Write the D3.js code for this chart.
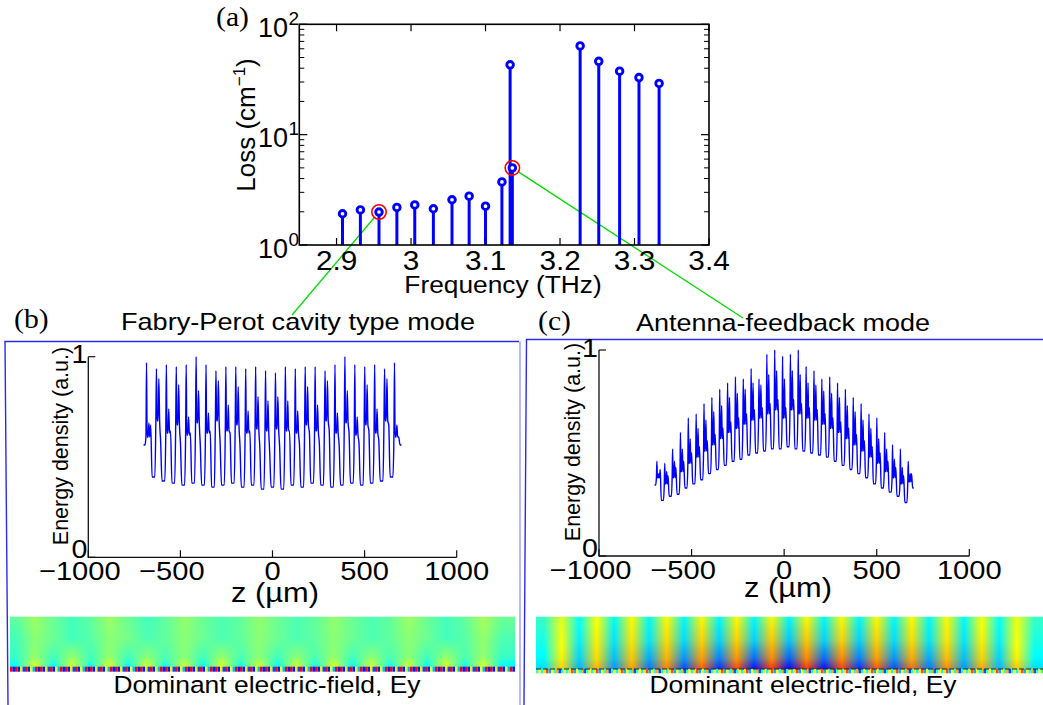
<!DOCTYPE html>
<html><head><meta charset="utf-8">
<script src="https://cdn.jsdelivr.net/npm/d3@7"></script>
<style>body{margin:0;background:#fff} svg{display:block}</style>
</head><body>
<svg id="fig" width="1043" height="705"></svg>
<script>
// ================= DATA =================
// (a) modal loss spectrum
const freqTHz = [2.908, 2.932, 2.957, 2.981, 3.005, 3.030, 3.055, 3.078, 3.100, 3.122, 3.133, 3.136, 3.227, 3.252, 3.280, 3.306, 3.333];
const lossCm  = [1.92, 2.08, 1.99, 2.19, 2.31, 2.13, 2.57, 2.77, 2.25, 3.73, 42.9, 4.99, 63.7, 46.2, 37.6, 32.9, 29.1];
const highlighted = [2, 11];
const freqTicks = [2.9, 3, 3.1, 3.2, 3.3, 3.4];
const freqTickLabels = ["2.9", "3", "3.1", "3.2", "3.3", "3.4"];
const lossDecades = [0, 1, 2];

// (b),(c) energy density axes
const zTicks = [-1000, -500, 0, 500, 1000];
const zTickLabels = ["\u22121000", "\u2212500", "0", "500", "1000"];
const energyTicks = [0, 1];

// (b) Fabry-Perot mode: per grating period values
const fpTrough   = [0.56,0.40,0.38,0.37,0.36,0.37,0.36,0.35,0.36,0.37,0.35,0.36,0.34,0.35,0.34,0.36,0.35,0.37,0.36,0.35,0.36,0.37,0.36,0.37,0.38,0.40,0.56];
const fpPeakA    = [0.97,0.94,0.96,0.95,0.96,1.00,0.96,0.93,0.95,0.95,0.94,0.95,0.93,0.92,0.95,0.94,0.95,0.95,0.93,0.96,1.00,0.96,0.95,0.96,0.94,0.97];
const fpPeakB    = [0.67,0.89,0.74,0.86,0.70,0.83,0.72,0.88,0.76,0.85,0.73,0.80,0.78,0.80,0.78,0.73,0.85,0.76,0.88,0.72,0.83,0.70,0.86,0.74,0.89,0.66];
const fpShoulder = [0.60,0.68,0.62,0.66,0.61,0.67,0.62,0.68,0.63,0.66,0.62,0.64,0.63,0.64,0.63,0.62,0.66,0.63,0.68,0.62,0.67,0.61,0.66,0.62,0.68,0.60];
const fpSmall    = [0.66,0.58,0.63,0.57,0.62,0.56,0.63,0.57,0.62,0.56,0.63,0.55,0.52,0.55,0.63,0.56,0.62,0.57,0.63,0.56,0.62,0.57,0.63,0.58,0.66,0.60];

// (c) Antenna-feedback mode: per grating period values
const afTrough   = [0.345,0.27,0.29,0.30,0.33,0.35,0.37,0.40,0.42,0.44,0.46,0.47,0.49,0.50,0.51,0.52,0.52,0.53,0.52,0.51,0.50,0.49,0.48,0.46,0.44,0.42,0.40,0.38,0.35,0.33,0.31,0.29,0.26,0.33];
const afPeakA    = [0.46,0.45,0.52,0.60,0.67,0.69,0.74,0.77,0.81,0.84,0.87,0.86,0.91,0.86,0.98,1.00,0.97,0.98,1.00,0.92,0.90,0.86,0.87,0.84,0.81,0.77,0.74,0.69,0.67,0.60,0.54,0.52,0.46];
const afPeakB    = [0.40,0.41,0.46,0.52,0.57,0.62,0.66,0.70,0.73,0.77,0.79,0.81,0.84,0.83,0.88,0.90,0.86,0.90,0.88,0.84,0.83,0.80,0.79,0.77,0.73,0.70,0.66,0.62,0.57,0.52,0.47,0.43,0.40];
const afShoulder = [0.38,0.35,0.38,0.41,0.45,0.48,0.51,0.54,0.57,0.60,0.62,0.64,0.66,0.67,0.69,0.71,0.67,0.71,0.69,0.67,0.66,0.64,0.62,0.60,0.57,0.54,0.51,0.48,0.45,0.41,0.38,0.35,0.36];
const afSmall    = [0.42,0.39,0.43,0.46,0.50,0.53,0.56,0.59,0.62,0.65,0.67,0.69,0.71,0.72,0.74,0.76,0.72,0.76,0.74,0.72,0.71,0.69,0.67,0.65,0.62,0.59,0.56,0.53,0.50,0.46,0.43,0.39,0.40];

// Field maps (jet-normalised Ey), rows from top to the grating surface
const fieldRowFrac = [0, 0.45, 0.8, 1];
const fpFieldRow0 = [0.47,0.53,0.48,0.44,0.47,0.53,0.48,0.44,0.47,0.52,0.48,0.45,0.47,0.52,0.48,0.45,0.47,0.52,0.48,0.45,0.47,0.53,0.48,0.44,0.47,0.54,0.48];
const fpFieldRow1 = [0.44,0.51,0.48,0.44,0.46,0.51,0.49,0.45,0.47,0.51,0.48,0.45,0.47,0.51,0.48,0.45,0.47,0.51,0.48,0.45,0.47,0.51,0.48,0.44,0.46,0.52,0.45];
const fpFieldRow2 = [0.43,0.52,0.44,0.52,0.44,0.52,0.44,0.51,0.45,0.51,0.44,0.52,0.45,0.51,0.44,0.51,0.45,0.52,0.44,0.51,0.45,0.51,0.44,0.52,0.45,0.52,0.43];
const fpFieldRow3 = [0.38,0.60,0.38,0.59,0.39,0.60,0.38,0.59,0.39,0.59,0.38,0.60,0.39,0.59,0.38,0.59,0.39,0.60,0.38,0.59,0.39,0.59,0.38,0.60,0.39,0.60,0.37];
const afFieldRowFrac = [0, 0.45, 0.8, 1];
const afFieldRow0 = [0.43,0.60,0.38,0.62,0.37,0.63,0.37,0.63,0.37,0.63,0.37,0.63,0.37,0.63,0.37,0.63,0.37,0.63,0.37,0.63,0.37,0.63,0.37,0.63,0.37,0.62,0.38,0.61,0.43];
const afFieldRow1 = [0.40,0.62,0.36,0.64,0.35,0.65,0.35,0.66,0.34,0.67,0.33,0.67,0.33,0.68,0.32,0.68,0.33,0.67,0.33,0.67,0.34,0.66,0.35,0.65,0.35,0.64,0.36,0.62,0.40];
const afFieldRow2 = [0.37,0.64,0.33,0.66,0.31,0.68,0.29,0.70,0.27,0.72,0.25,0.73,0.23,0.74,0.22,0.74,0.23,0.74,0.25,0.72,0.27,0.71,0.29,0.69,0.31,0.67,0.33,0.64,0.37];
const afFieldRow3 = [0.34,0.67,0.30,0.70,0.27,0.72,0.24,0.75,0.20,0.78,0.17,0.80,0.14,0.82,0.13,0.82,0.14,0.81,0.17,0.79,0.20,0.77,0.24,0.74,0.27,0.71,0.30,0.68,0.34];
const fpGrating = [0.88,0.15,0.88,0.15,0.65,0.20,0.88,0.15,0.60,0.30];
const afGrating = [0.40,0.62,0.38,0.65,0.80,0.30,0.62,0.40,0.70,0.20];

// ================= DRAWING =================
const svg = d3.select("#fig");
const defs = svg.append("defs");
const SANS = "'Liberation Sans', Arial, Helvetica, sans-serif";
const SERIF = "'Liberation Serif', 'Times New Roman', serif";

function label(parent, x, y, str, o = {}) {
  const g = parent.append("g")
    .attr("transform", `translate(${x},${y})` + (o.rot ? ` rotate(${o.rot})` : "") + ` scale(${o.sx || 1},1)`);
  return g.append("text")
    .attr("text-anchor", o.anchor || "middle")
    .attr("font-family", o.family || SANS)
    .attr("font-size", o.size || 24)
    .attr("fill", "#000")
    .text(str);
}

const jet = d3.scaleLinear()
  .domain([0, 0.125, 0.375, 0.625, 0.875, 1])
  .range(["#000090", "#0000ff", "#00ffff", "#ffff00", "#ff0000", "#800000"])
  .clamp(true);

// ---------- panel (a) ----------
const A = svg.append("g");
const ax = d3.scaleLinear().domain([2.85, 3.4]).range([299.3, 709]);
const ay = d3.scaleLog().domain([1, 100]).range([245, 24.3]);

// green annotation leaders (from highlighted points to panel titles)
const leaderEnds = [[292, 315], [743, 318]];
const redR = 7.2;
highlighted.forEach((idx, i) => {
  const cx = ax(freqTHz[idx]), cy = ay(lossCm[idx]);
  const [ex, ey] = leaderEnds[i];
  const d = Math.hypot(ex - cx, ey - cy);
  A.append("line")
    .attr("x1", cx + (ex - cx) / d * redR).attr("y1", cy + (ey - cy) / d * redR)
    .attr("x2", ex).attr("y2", ey)
    .attr("stroke", "#00dd00").attr("stroke-width", 1.3);
});

// stems
A.selectAll("line.stem").data(freqTHz).join("line").attr("class", "stem")
  .attr("x1", d => ax(d)).attr("x2", d => ax(d))
  .attr("y1", ay(1)).attr("y2", (d, i) => ay(lossCm[i]))
  .attr("stroke", "#0000ff").attr("stroke-width", 3);

// frame
A.append("rect").attr("x", ax(2.85)).attr("y", ay(100))
  .attr("width", ax(3.4) - ax(2.85)).attr("height", ay(1) - ay(100))
  .attr("fill", "none").attr("stroke", "#000").attr("stroke-width", 1.6);

// x ticks (bottom + top)
freqTicks.forEach(t => {
  A.append("line").attr("x1", ax(t)).attr("x2", ax(t)).attr("y1", ay(1)).attr("y2", ay(1) - 7).attr("stroke", "#000").attr("stroke-width", 1.2);
  A.append("line").attr("x1", ax(t)).attr("x2", ax(t)).attr("y1", ay(100)).attr("y2", ay(100) + 7).attr("stroke", "#000").attr("stroke-width", 1.2);
});
// y ticks (major + minor) left and right
lossDecades.forEach(e => {
  const v = Math.pow(10, e);
  [[ax(2.85), 1], [ax(3.4), -1]].forEach(([x, s]) => {
    A.append("line").attr("x1", x).attr("x2", x + s * 8).attr("y1", ay(v)).attr("y2", ay(v)).attr("stroke", "#000").attr("stroke-width", 1.2);
    if (e < 2) for (let k = 2; k <= 9; k++) {
      A.append("line").attr("x1", x).attr("x2", x + s * 5).attr("y1", ay(v * k)).attr("y2", ay(v * k)).attr("stroke", "#000").attr("stroke-width", 1);
    }
  });
});

// markers
A.selectAll("circle.mk").data(freqTHz).join("circle").attr("class", "mk")
  .attr("cx", d => ax(d)).attr("cy", (d, i) => ay(lossCm[i]))
  .attr("r", 3.3).attr("fill", "#fff").attr("stroke", "#0000ff").attr("stroke-width", 2.9);
// red highlight circles
highlighted.forEach(idx => {
  A.append("circle").attr("cx", ax(freqTHz[idx])).attr("cy", ay(lossCm[idx]))
    .attr("r", redR).attr("fill", "none").attr("stroke", "#ff0000").attr("stroke-width", 1.6);
});

// tick labels
freqTicks.forEach((t, i) => label(A, ax(t), 270, freqTickLabels[i], { size: 27, sx: 1.1 }));
lossDecades.forEach(e => {
  const v = Math.pow(10, e);
  label(A, 288, ay(v) + 12.5, "10", { size: 27, anchor: "end" });
  label(A, 288.5, ay(v) + 0.5, String(e), { size: 19, anchor: "start" });
});
label(A, 503, 293, "Frequency (THz)", { size: 23.5, sx: 1.12 });
{
  const t = label(A, 255, 125, "", { size: 26, rot: -90 });
  t.append("tspan").text("Loss (cm");
  t.append("tspan").attr("font-size", 17).attr("dy", -10).text("\u22121");
  t.append("tspan").attr("dy", 10).text(")");
}
label(A, 216, 26, "(a)", { size: 27, sx: 1.1, anchor: "start", family: SERIF });

// ---------- panel frames & titles ----------
const F = svg.append("g");
F.append("path").attr("d", "M8,705 L5,341.5 L519,341.5").attr("fill", "none").attr("stroke", "#2a2aee").attr("stroke-width", 1.4);
F.append("line").attr("x1", 520).attr("x2", 520).attr("y1", 341.5).attr("y2", 705).attr("stroke", "#8a8af2").attr("stroke-width", 1.2);
F.append("path").attr("d", "M524,705 L526.5,339.5 L1043,339.5").attr("fill", "none").attr("stroke", "#2a2aee").attr("stroke-width", 1.4);
label(F, 14, 328, "(b)", { size: 27, sx: 1.1, anchor: "start", family: SERIF });
label(F, 298, 330, "Fabry-Perot cavity type mode", { size: 24, sx: 1.13 });
label(F, 538, 330, "(c)", { size: 27, sx: 1.1, anchor: "start", family: SERIF });
label(F, 783, 331, "Antenna-feedback mode", { size: 24, sx: 1.125 });

// ---------- energy density panels ----------
const shape = [[0, "T"], [0.14, "T"], [0.24, "S"], [0.30, "A"], [0.36, "S"], [0.46, "S"], [0.54, "B"], [0.62, "S"], [0.72, "C"], [0.86, "Tn"]];
function buildTrace(z0, z1, rec) {
  const n = rec.A.length, P = (z1 - z0) / n;
  const pts = [];
  for (let i = 0; i < n; i++) {
    for (const [f, key] of shape) {
      const v = key === "T" ? rec.T[i] : key === "Tn" ? rec.T[i + 1] : rec[key][i];
      pts.push([z0 + (i + f) * P, v]);
    }
  }
  pts.push([z1, rec.T[n]]);
  return pts;
}

function energyPanel(o) {
  const g = svg.append("g");
  const x = d3.scaleLinear().domain([-1000, 1000]).range(o.xr);
  const y = d3.scaleLinear().domain([0, 1]).range(o.yr);
  const pts = buildTrace(-700, 700, o.rec);
  g.append("path").datum(pts)
    .attr("d", d3.line().x(d => x(d[0])).y(d => y(d[1])).curve(d3.curveMonotoneX))
    .attr("fill", "none").attr("stroke", "#0000ff").attr("stroke-width", 1.4).attr("stroke-linejoin", "round");
  // axes
  g.append("path").attr("d", `M${x(-1000)},${y(1)} V${y(0)} H${x(1000)}`)
    .attr("fill", "none").attr("stroke", "#111").attr("stroke-width", 1.3);
  zTicks.forEach(t => g.append("line").attr("x1", x(t)).attr("x2", x(t)).attr("y1", y(0)).attr("y2", y(0) - 7).attr("stroke", "#111").attr("stroke-width", 1.2));
  energyTicks.forEach(t => g.append("line").attr("x1", x(-1000)).attr("x2", x(-1000) + 7).attr("y1", y(t)).attr("y2", y(t)).attr("stroke", "#111").attr("stroke-width", 1.2));
  // x tick labels: digits centred on tick, minus hanging left
  zTicks.forEach((t, i) => {
    const s = zTickLabels[i];
    const neg = s.startsWith("\u2212");
    const digits = neg ? s.slice(1) : s;
    const tx = label(g, x(t), y(0) + 22.5, digits, { size: 26, sx: 1.12 });
    if (neg) {
      const w = tx.node().getComputedTextLength();
      d3.select(tx.node().parentNode).append("text")
        .attr("x", -w / 2).attr("text-anchor", "end").attr("font-family", SANS).attr("font-size", 26).text("\u2212");
    }
  });
  energyTicks.forEach(t => label(g, x(-1000) - 1, y(t) + (t === 0 ? 1 : 6.5), String(t), { size: 26, sx: 1.1, anchor: "end" }));
  label(g, o.zLab[0], o.zLab[1], "z (\u00b5m)", { size: 28, sx: 1.1 });
  label(g, o.eLab[0], o.eLab[1], "Energy density (a.u.)", { size: 21.5, rot: -90 });
}

energyPanel({
  xr: [88.3, 456.7], yr: [557.3, 356.7],
  rec: { T: fpTrough, A: fpPeakA, B: fpPeakB, S: fpShoulder, C: fpSmall },
  zLab: [275, 601.7], eLab: [68, 446]
});
energyPanel({
  xr: [599, 969.3], yr: [556, 350],
  rec: { T: afTrough, A: afPeakA, B: afPeakB, S: afShoulder, C: afSmall },
  zLab: [788, 596.7], eLab: [580, 442]
});

// ---------- field maps ----------
function fieldMap(id, x0, x1, y0, y1, colRange, rowFrac, rows, grating, gy1, cellW) {
  const g = svg.append("g");
  const n = rows[0].length;
  const cx = d3.scaleLinear().domain([0, n - 1]).range(colRange);
  const H = y1 - y0, bands = Math.round(H);
  for (let b = 0; b < bands; b++) {
    const t = (b + 0.5) / bands;
    let j = 0;
    while (j < rowFrac.length - 2 && t > rowFrac[j + 1]) j++;
    const u = Math.max(0, Math.min(1, (t - rowFrac[j]) / (rowFrac[j + 1] - rowFrac[j])));
    const grad = defs.append("linearGradient").attr("id", id + b)
      .attr("gradientUnits", "userSpaceOnUse")
      .attr("x1", cx(0)).attr("x2", cx(n - 1)).attr("y1", 0).attr("y2", 0);
    for (let k = 0; k < n; k++) {
      const v = rows[j][k] * (1 - u) + rows[j + 1][k] * u;
      grad.append("stop").attr("offset", k / (n - 1)).attr("stop-color", jet(v));
    }
    g.append("rect").attr("x", x0).attr("y", y0 + b * H / bands)
      .attr("width", x1 - x0).attr("height", H / bands + 0.6).attr("fill", `url(#${id + b})`);
  }
  const cells = d3.range(Math.ceil((x1 - x0) / cellW));
  g.selectAll("rect.gr").data(cells).join("rect").attr("class", "gr")
    .attr("x", i => x0 + i * cellW).attr("y", y1)
    .attr("width", i => Math.min(cellW, x1 - x0 - i * cellW)).attr("height", gy1 - y1)
    .attr("fill", i => jet(grating[i % grating.length]));
  return g;
}
fieldMap("fpf", 10, 515, 616.7, 666.7, [16, 502], fieldRowFrac,
  [fpFieldRow0, fpFieldRow1, fpFieldRow2, fpFieldRow3], fpGrating, 671.7, 2.5);
const cf = fieldMap("aff", 536, 1043, 616.7, 669, [544.2, 1034.2], afFieldRowFrac,
  [afFieldRow0, afFieldRow1, afFieldRow2, afFieldRow3], afGrating, 673.3, 2.5);
cf.append("line").attr("x1", 536).attr("x2", 1043).attr("y1", 669).attr("y2", 669)
  .attr("stroke", "#222").attr("stroke-width", 1).attr("stroke-dasharray", "5,2");

label(svg, 267, 693, "Dominant electric-field, Ey", { size: 23.5, sx: 1.125 });
label(svg, 803, 693, "Dominant electric-field, Ey", { size: 23.5, sx: 1.125 });
</script>
</body></html>
